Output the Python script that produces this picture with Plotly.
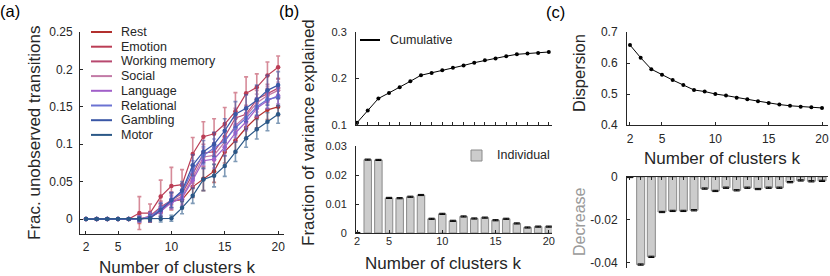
import plotly.graph_objects as go

W, H = 830, 276
FONT = "Liberation Sans, Arial, Helvetica, sans-serif"
AX = "#262626"

k = list(range(2, 21))

# ---------- panel (a) data ----------
task_names = ["Rest", "Emotion", "Working memory", "Social", "Language",
              "Relational", "Gambling", "Motor"]
task_colors = ["#b2302e", "#bb3d55", "#b8486f", "#c27aa6", "#a15fc9",
               "#6b72d2", "#3a57a6", "#2b5887"]
Z = [0, 0, 0, 0, 0]
frac_rest = Z + [0.000, 0.002, 0.010, 0.024, 0.026, 0.043, 0.054, 0.064, 0.090, 0.105, 0.122, 0.136, 0.146, 0.150]
frac_emotion = Z + [0.008, 0.008, 0.030, 0.044, 0.046, 0.087, 0.110, 0.114, 0.127, 0.144, 0.168, 0.176, 0.192, 0.203]
frac_wm = Z + [0.000, 0.004, 0.016, 0.025, 0.034, 0.060, 0.088, 0.090, 0.110, 0.135, 0.140, 0.160, 0.168, 0.175]
frac_social = Z + [0.000, 0.003, 0.012, 0.024, 0.030, 0.055, 0.083, 0.085, 0.103, 0.125, 0.138, 0.155, 0.165, 0.172]
frac_language = Z + [0.000, 0.002, 0.010, 0.022, 0.028, 0.052, 0.078, 0.080, 0.096, 0.115, 0.130, 0.148, 0.158, 0.165]
frac_relational = Z + [0.000, 0.003, 0.014, 0.026, 0.036, 0.066, 0.085, 0.095, 0.105, 0.122, 0.135, 0.150, 0.160, 0.163]
frac_gambling = Z + [0.000, 0.001, 0.012, 0.025, 0.038, 0.072, 0.090, 0.100, 0.118, 0.140, 0.148, 0.159, 0.172, 0.179]
frac_motor = Z + [0.000, 0.000, 0.000, 0.001, 0.015, 0.031, 0.053, 0.058, 0.071, 0.090, 0.108, 0.120, 0.130, 0.140]

N = [None] * 5
err_rest = N + [0.006, 0.006, 0.010, 0.012, 0.012, 0.014, 0.016, 0.015, 0.015, 0.016, 0.015, 0.014, 0.013, 0.012]
err_emotion = N + [0.022, 0.012, 0.022, 0.025, 0.020, 0.022, 0.020, 0.020, 0.022, 0.025, 0.022, 0.018, 0.018, 0.015]
err_wm = N + [0.004, 0.006, 0.008, 0.010, 0.010, 0.012, 0.012, 0.012, 0.013, 0.013, 0.012, 0.012, 0.012, 0.012]
err_social = N + [0.004, 0.005, 0.008, 0.009, 0.010, 0.011, 0.012, 0.012, 0.012, 0.013, 0.012, 0.012, 0.012, 0.011]
err_language = N + [0.004, 0.005, 0.007, 0.009, 0.010, 0.011, 0.011, 0.012, 0.012, 0.012, 0.012, 0.012, 0.011, 0.011]
err_relational = N + [0.004, 0.006, 0.008, 0.010, 0.011, 0.012, 0.012, 0.012, 0.013, 0.013, 0.013, 0.012, 0.012, 0.012]
err_gambling = N + [0.003, 0.005, 0.009, 0.010, 0.012, 0.014, 0.015, 0.016, 0.016, 0.017, 0.018, 0.020, 0.020, 0.018]
err_motor = N + [0.002, 0.003, 0.004, 0.004, 0.008, 0.010, 0.015, 0.015, 0.014, 0.013, 0.012, 0.013, 0.012, 0.012]

frac_all = [frac_rest, frac_emotion, frac_wm, frac_social, frac_language,
            frac_relational, frac_gambling, frac_motor]
err_all = [err_rest, err_emotion, err_wm, err_social, err_language,
           err_relational, err_gambling, err_motor]

# ---------- panel (b) data ----------
var_cumulative = [0.105, 0.131, 0.157, 0.169, 0.181, 0.194, 0.207, 0.212, 0.218, 0.223,
                  0.228, 0.234, 0.239, 0.243, 0.248, 0.252, 0.254, 0.255, 0.257]
var_individual = [0.0, 0.0253, 0.0252, 0.0121, 0.0120, 0.0125, 0.0131, 0.0049, 0.0066, 0.0042,
                  0.0057, 0.0050, 0.0053, 0.0044, 0.0049, 0.0033, 0.0019, 0.0022, 0.0022]
var_individual_err = [0.0002] * 19

# ---------- panel (c) data ----------
dispersion = [0.658, 0.617, 0.580, 0.562, 0.545, 0.529, 0.513, 0.508, 0.500, 0.495,
              0.488, 0.483, 0.477, 0.471, 0.466, 0.462, 0.459, 0.457, 0.455]
decrease = [0.0, -0.0408, -0.0372, -0.0163, -0.0158, -0.0158, -0.0155, -0.0054, -0.0065, -0.0050,
            -0.0062, -0.0050, -0.0056, -0.0050, -0.0050, -0.0024, -0.0016, -0.0020, -0.0018]
decrease_err = [0.0003] * 19

x_ticks = [2, 5, 10, 15, 20]


def px(x):
    return x / W


def py(y):
    return 1 - y / H


def rgba(hexc, a):
    h = hexc.lstrip("#")
    r, g, b = int(h[0:2], 16), int(h[2:4], 16), int(h[4:6], 16)
    return f"rgba({r},{g},{b},{a})"


fig = go.Figure()

# panel (a)
for name, col, vals, errs in zip(task_names, task_colors, frac_all, err_all):
    fig.add_trace(go.Scatter(
        x=k, y=vals, mode="lines+markers", name=name,
        line=dict(color=col, width=1.2),
        marker=dict(color=col, size=4.5),
        error_y=dict(type="data", array=errs, visible=True,
                     color=rgba(col, 0.6), thickness=1.6, width=2),
        xaxis="x", yaxis="y", showlegend=False))

# panel (b) top: cumulative
fig.add_trace(go.Scatter(
    x=k, y=var_cumulative, mode="lines+markers", name="Cumulative",
    line=dict(color="black", width=1), marker=dict(color="black", size=4),
    xaxis="x2", yaxis="y2", showlegend=False))

# panel (b) bottom: individual
fig.add_trace(go.Bar(
    x=k, y=var_individual, name="Individual", width=0.7,
    marker=dict(color="#cccccc", line=dict(color="#8a8a8a", width=1)),
    error_y=dict(type="data", array=var_individual_err, visible=True,
                 color="black", thickness=1, width=3),
    xaxis="x3", yaxis="y3", showlegend=False))

# panel (c) top: dispersion
fig.add_trace(go.Scatter(
    x=k, y=dispersion, mode="lines+markers", name="Dispersion",
    line=dict(color="black", width=1), marker=dict(color="black", size=4),
    xaxis="x4", yaxis="y4", showlegend=False))

# panel (c) bottom: decrease
fig.add_trace(go.Bar(
    x=k, y=decrease, name="Decrease", width=0.75,
    marker=dict(color="#cccccc", line=dict(color="#8a8a8a", width=1)),
    error_y=dict(type="data", array=decrease_err, visible=True,
                 color="black", thickness=1, width=3),
    xaxis="x5", yaxis="y5", showlegend=False))


def axstyle(size=12, standoff=0):
    return dict(showline=True, linecolor=AX, linewidth=1, ticks="inside",
                ticklen=3, tickcolor=AX, tickwidth=1, showgrid=False,
                zeroline=False, fixedrange=True, automargin=False,
                ticklabelstandoff=standoff,
                tickfont=dict(family=FONT, size=size, color=AX))


layout = dict(
    width=W, height=H, margin=dict(l=0, r=0, t=0, b=0),
    paper_bgcolor="white", plot_bgcolor="white",
    font=dict(family=FONT, color=AX),
    xaxis=dict(domain=[px(80), px(284)], range=[1.44, 20.55],
               tickvals=x_ticks, anchor="y", **axstyle(12, 2)),
    yaxis=dict(domain=[py(234), py(32)], range=[-0.02, 0.25],
               tickvals=[0, 0.05, 0.1, 0.15, 0.2, 0.25],
               ticktext=["0", "0.05", "0.1", "0.15", "0.2", "0.25"],
               anchor="x", **axstyle(12, 4)),
    xaxis2=dict(domain=[px(356), px(552)], range=[1.9, 20.3],
                dtick=1, tick0=2, showticklabels=False, anchor="y2",
                **axstyle(11, 0)),
    yaxis2=dict(domain=[py(125), py(32)], range=[0.1, 0.3],
                tickvals=[0.1, 0.2, 0.3], ticktext=["0.1", "0.2", "0.3"],
                anchor="x2", **axstyle(11, 6)),
    xaxis3=dict(domain=[px(356), px(552)], range=[1.9, 20.3],
                tickvals=x_ticks, anchor="y3", **axstyle(11, -2)),
    yaxis3=dict(domain=[py(233), py(146)], range=[0, 0.03],
                tickvals=[0, 0.01, 0.02, 0.03],
                ticktext=["0", "0.01", "0.02", "0.03"], anchor="x3",
                **axstyle(11, 6)),
    xaxis4=dict(domain=[px(627), px(828)], range=[1.72, 20.56],
                tickvals=x_ticks, anchor="y4", **axstyle(12, 3)),
    yaxis4=dict(domain=[py(125), py(32)], range=[0.4, 0.7],
                tickvals=[0.4, 0.5, 0.6, 0.7],
                ticktext=["0.4", "0.5", "0.6", "0.7"], anchor="x4",
                **axstyle(12, 6)),
    xaxis5=dict(domain=[px(627), px(828)], range=[1.72, 20.56],
                dtick=1, tick0=2, showticklabels=False, side="top",
                anchor="y5", **axstyle(12, 0)),
    yaxis5=dict(domain=[py(268), py(177)], range=[-0.0424, 0],
                tickvals=[-0.04, -0.02, 0],
                ticktext=["-0.04", "-0.02", "0"], anchor="x5",
                **axstyle(12, 6)),
)
fig.update_layout(**layout)

ann = []
shapes = []


def text(x, y, s, size=17, color=AX, angle=0, xanchor="center"):
    ann.append(dict(x=px(x), y=py(y), xref="paper", yref="paper", text=s,
                    showarrow=False, textangle=angle, xanchor=xanchor,
                    yanchor="middle", font=dict(family=FONT, size=size, color=color)))


# panel labels
text(10, 11, "(a)", size=16.5, color="black")
text(289, 11, "(b)", size=16.5, color="black")
text(555, 12, "(c)", size=16.5, color="black")

# axis titles
text(177, 267, "Number of clusters k")
text(443, 263, "Number of clusters k")
text(722, 158, "Number of clusters k")
text(35, 133, "Frac. unobserved transitions", angle=-90)
text(309, 133, "Fraction of variance explained", angle=-90)
text(579, 73, "Dispersion", size=16.5, angle=-90)
text(579, 222, "Decrease", size=16, angle=-90, color="#9a9a9a")

# panel (a) legend
for i, (name, col) in enumerate(zip(task_names, task_colors)):
    yy = 32 + i * 14.7
    shapes.append(dict(type="line", xref="paper", yref="paper",
                       x0=px(91), x1=px(112), y0=py(yy), y1=py(yy),
                       line=dict(color=col, width=2)))
    text(119, yy, name, size=12.5, xanchor="left")

# panel (b) legends
shapes.append(dict(type="line", xref="paper", yref="paper",
                   x0=px(360), x1=px(380), y0=py(40), y1=py(40),
                   line=dict(color="black", width=2)))
text(388, 40, "Cumulative", size=12.5, xanchor="left")
shapes.append(dict(type="rect", xref="paper", yref="paper",
                   x0=px(471), x1=px(482), y0=py(161), y1=py(150),
                   fillcolor="#cccccc", line=dict(color="#8a8a8a", width=1)))
text(495, 155, "Individual", size=12.5, xanchor="left")

fig.update_layout(annotations=ann, shapes=shapes)

fig.write_html("out.html",
               config={"displayModeBar": False},
               post_script="document.body.style.margin='0';"
                           "document.body.style.padding='0';"
                           "document.body.style.overflow='hidden';")
